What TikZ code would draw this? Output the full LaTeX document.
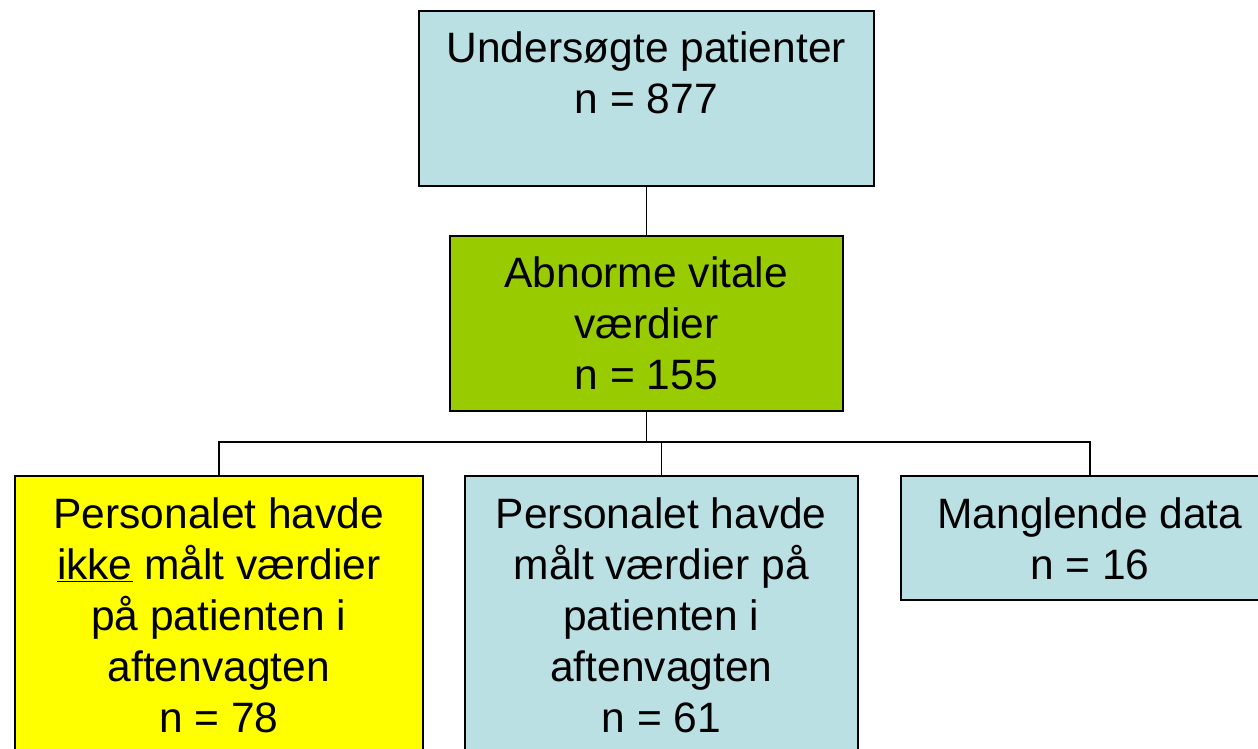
\documentclass[tikz,border=0pt]{standalone}
\usepackage{fontspec}
\setmainfont{Liberation Sans}
\definecolor{lblue}{HTML}{BBE0E3}
\definecolor{lgreen}{HTML}{99CC00}
\definecolor{lyellow}{HTML}{FFFF00}
\tikzset{
  box/.style={draw=black, line width=1.6pt, rectangle, inner sep=0pt, anchor=north west},
  lbl/.style={inner sep=0pt, align=center, font=\fontsize{42.5}{51}\selectfont, text=black},
  conn/.style={draw=black, line width=1.4pt}
}
\begin{document}
\begin{tikzpicture}[x=1pt,y=-1pt]
\useasboundingbox (0,0) rectangle (1258,749);
\clip (0,0) rectangle (1258,749);
\fill[white] (0,0) rectangle (1258,749);
% boxes
\node[box, fill=lblue, minimum width=455pt, minimum height=175pt] (top) at (418,10) {};
\node[box, fill=lgreen, minimum width=393pt, minimum height=175pt] (abn) at (449,235) {};
\node[box, fill=lyellow, minimum width=408pt, minimum height=330pt] (yel) at (14,475) {};
\node[box, fill=lblue, minimum width=393pt, minimum height=330pt] (mid) at (464,475) {};
\node[box, fill=lblue, minimum width=378pt, minimum height=124pt] (rgt) at (900,475) {};
% labels
\node[lbl, anchor=north] (ttop) at ([yshift=-22pt]top.north) {Undersøgte patienter\\n = 877};
\node[lbl, anchor=center] (tabn) at (abn.center) {Abnorme vitale\\værdier\\n = 155};
\node[lbl, anchor=north] (tyel) at ([yshift=-22pt]yel.north) {Personalet havde\\\underline{ikke} målt værdier\\på patienten i\\aftenvagten\\n = 78};
\node[lbl, anchor=north] (tmid) at ([yshift=-22pt]mid.north) {Personalet havde\\målt værdier på\\patienten i\\aftenvagten\\n = 61};
\node[lbl, anchor=north] (trgt) at ([yshift=-22pt]rgt.north) {Manglende data\\n = 16};
% connectors
\coordinate (bus) at (645.5,442);
\draw[conn] (top.south) -- (abn.north);
\draw[conn] (abn.south) -- (abn.south |- bus);
\draw[conn] (yel.north) -- (yel.north |- bus) -- (rgt.north |- bus) -- (rgt.north);
\draw[conn] (mid.north |- bus) -- (mid.north);
\end{tikzpicture}
\end{document}
